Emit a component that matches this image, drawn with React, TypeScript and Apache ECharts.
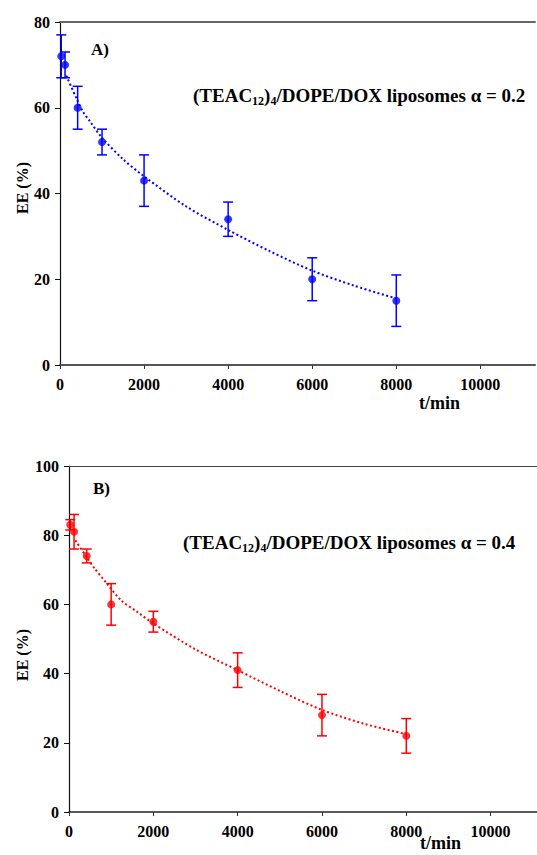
import React, { useEffect, useRef } from "react";
import * as echarts from "echarts";

// Panel A data
const timeA = [30, 120, 420, 1000, 2000, 4000, 6000, 8000];
const eeA = [72, 70, 60, 52, 43, 34, 20, 15];
const errA = [5, 3, 5, 3, 6, 4, 5, 6];
const fitTimeA = [150, 400, 550, 700, 1000, 1500, 2000, 3000, 4000, 5000, 6000, 7000, 8000];
const fitEeA = [67.5, 62, 59, 57, 53, 48, 44, 37, 31.5, 26.5, 22, 18.5, 15.5];

// Panel B data
const timeB = [30, 120, 420, 1000, 2000, 4000, 6000, 8000];
const eeB = [83, 81, 74, 60, 55, 41, 28, 22];
const errB = [1.5, 5, 2, 6, 3, 5, 6, 5];
const fitTimeB = [150, 400, 600, 900, 1250, 1600, 2000, 3000, 4000, 5000, 6000, 7000, 8000];
const fitEeB = [78.5, 74, 70.5, 66, 61, 58, 54.5, 47, 41, 35, 29.5, 25.5, 22.5];

const FONT = "Liberation Serif";
const BLUE = "#0000ff";
const RED = "#ff0000";

function errorSeries(times: number[], vals: number[], errs: number[], color: string, xi: number, yi: number) {
  return {
    type: "custom",
    xAxisIndex: xi,
    yAxisIndex: yi,
    z: 3,
    data: times.map((t, i) => [t, vals[i], errs[i]]),
    renderItem: (params: any, api: any) => {
      const x = api.value(0);
      const y = api.value(1);
      const e = api.value(2);
      const top = api.coord([x, y + e]);
      const bot = api.coord([x, y - e]);
      const hw = 5;
      const st = { stroke: color, lineWidth: 1.5 };
      return {
        type: "group",
        children: [
          { type: "line", shape: { x1: top[0], y1: top[1], x2: bot[0], y2: bot[1] }, style: st },
          { type: "line", shape: { x1: top[0] - hw, y1: top[1], x2: top[0] + hw, y2: top[1] }, style: st },
          { type: "line", shape: { x1: bot[0] - hw, y1: bot[1], x2: bot[0] + hw, y2: bot[1] }, style: st },
        ],
      };
    },
  };
}

function bottomAxis(gi: number, max: number, lineColor: string, lineWidth: number) {
  return {
    type: "value",
    gridIndex: gi,
    position: "bottom",
    min: 0,
    max,
    interval: 2000,
    axisLine: { show: true, lineStyle: { color: lineColor, width: lineWidth } },
    axisTick: { show: true, length: 4, lineStyle: { color: "#333" } },
    axisLabel: {
      margin: 11,
      showMaxLabel: false,
      color: "#000",
      fontFamily: FONT,
      fontWeight: "bold",
      fontSize: 16,
      formatter: (v: number) => String(v),
    },
    splitLine: { show: false },
  };
}

function topAxis(gi: number, max: number, lineColor: string, lineWidth: number) {
  return {
    type: "value",
    gridIndex: gi,
    position: "top",
    min: 0,
    max,
    axisLine: { show: true, onZero: false, lineStyle: { color: lineColor, width: lineWidth } },
    axisTick: { show: false },
    axisLabel: { show: false },
    splitLine: { show: false },
  };
}

function yAxis(gi: number, max: number) {
  return {
    type: "value",
    gridIndex: gi,
    min: 0,
    max,
    interval: 20,
    axisLine: { show: true, lineStyle: { color: "#111", width: 1.2 } },
    axisTick: { show: true, length: 5, lineStyle: { color: "#111" } },
    axisLabel: {
      margin: 10,
      color: "#000",
      fontFamily: FONT,
      fontWeight: "bold",
      fontSize: 16,
      formatter: (v: number) => String(v),
    },
    splitLine: { show: false },
  };
}

export default function App() {
  const ref = useRef<HTMLDivElement>(null);
  useEffect(() => {
    if (!ref.current) return;
    const chart = echarts.init(ref.current, undefined, { renderer: "svg" });
    const rich = {
      b: { fontFamily: FONT, fontWeight: "bold", fontSize: 19, lineHeight: 23, color: "#000" },
      s: { fontFamily: FONT, fontWeight: "bold", fontSize: 12, lineHeight: 11, verticalAlign: "bottom", color: "#000" },
    };
    const label = (txt: string) => `{b|(TEAC}{s|12}{b|)}{s|4}{b|/DOPE/DOX liposomes α = ${txt}}`;
    const tfont = `bold 18px ${FONT}`;
    const afont = `bold 17px ${FONT}`;
    const efont = `bold 16px ${FONT}`;
    const option: any = {
      animation: false,
      backgroundColor: "#fff",
      grid: [
        { left: 60, top: 22, width: 475, height: 343 },
        { left: 69, top: 466, width: 468, height: 346 },
      ],
      xAxis: [
        bottomAxis(0, 11300, "#555", 2),
        topAxis(0, 11300, "#666", 2),
        bottomAxis(1, 11100, "#222", 1.5),
        topAxis(1, 11100, "#444", 1.2),
      ],
      yAxis: [yAxis(0, 80), yAxis(1, 100)],
      series: [
        {
          type: "line",
          xAxisIndex: 0,
          yAxisIndex: 0,
          data: fitTimeA.map((t, i) => [t, fitEeA[i]]),
          smooth: 0.3,
          showSymbol: false,
          lineStyle: { color: BLUE, width: 2, type: [2, 2.5] },
          z: 2,
        },
        {
          type: "scatter",
          xAxisIndex: 0,
          yAxisIndex: 0,
          data: timeA.map((t, i) => [t, eeA[i]]),
          symbol: "circle",
          symbolSize: 8,
          itemStyle: { color: BLUE },
          z: 4,
        },
        errorSeries(timeA, eeA, errA, BLUE, 0, 0),
        {
          type: "line",
          xAxisIndex: 2,
          yAxisIndex: 1,
          data: fitTimeB.map((t, i) => [t, fitEeB[i]]),
          smooth: 0.3,
          showSymbol: false,
          lineStyle: { color: RED, width: 2, type: [2, 2.5] },
          z: 2,
        },
        {
          type: "scatter",
          xAxisIndex: 2,
          yAxisIndex: 1,
          data: timeB.map((t, i) => [t, eeB[i]]),
          symbol: "circle",
          symbolSize: 8,
          itemStyle: { color: RED },
          z: 4,
        },
        errorSeries(timeB, eeB, errB, RED, 2, 1),
      ],
      graphic: [
        { type: "text", left: 91, top: 41, style: { text: "A)", font: afont, fill: "#000" } },
        { type: "text", left: 93, top: 480, style: { text: "B)", font: afont, fill: "#000" } },
        { type: "text", left: 193, top: 86, style: { text: label("0.2"), rich } },
        { type: "text", left: 183, top: 533, style: { text: label("0.4"), rich } },
        { type: "text", left: 419, top: 394, style: { text: "t/min", font: tfont, fill: "#000" } },
        { type: "text", left: 420, top: 834, style: { text: "t/min", font: tfont, fill: "#000" } },
        {
          type: "text",
          x: 22,
          y: 188,
          rotation: Math.PI / 2,
          style: { text: "EE (%)", font: efont, fill: "#000", align: "center", verticalAlign: "middle" },
        },
        {
          type: "text",
          x: 22,
          y: 655,
          rotation: Math.PI / 2,
          style: { text: "EE (%)", font: efont, fill: "#000", align: "center", verticalAlign: "middle" },
        },
      ],
    };
    chart.setOption(option);
    return () => chart.dispose();
  }, []);
  return <div ref={ref} style={{ position: "fixed", left: 0, top: 0, width: 537, height: 855 }} />;
}
